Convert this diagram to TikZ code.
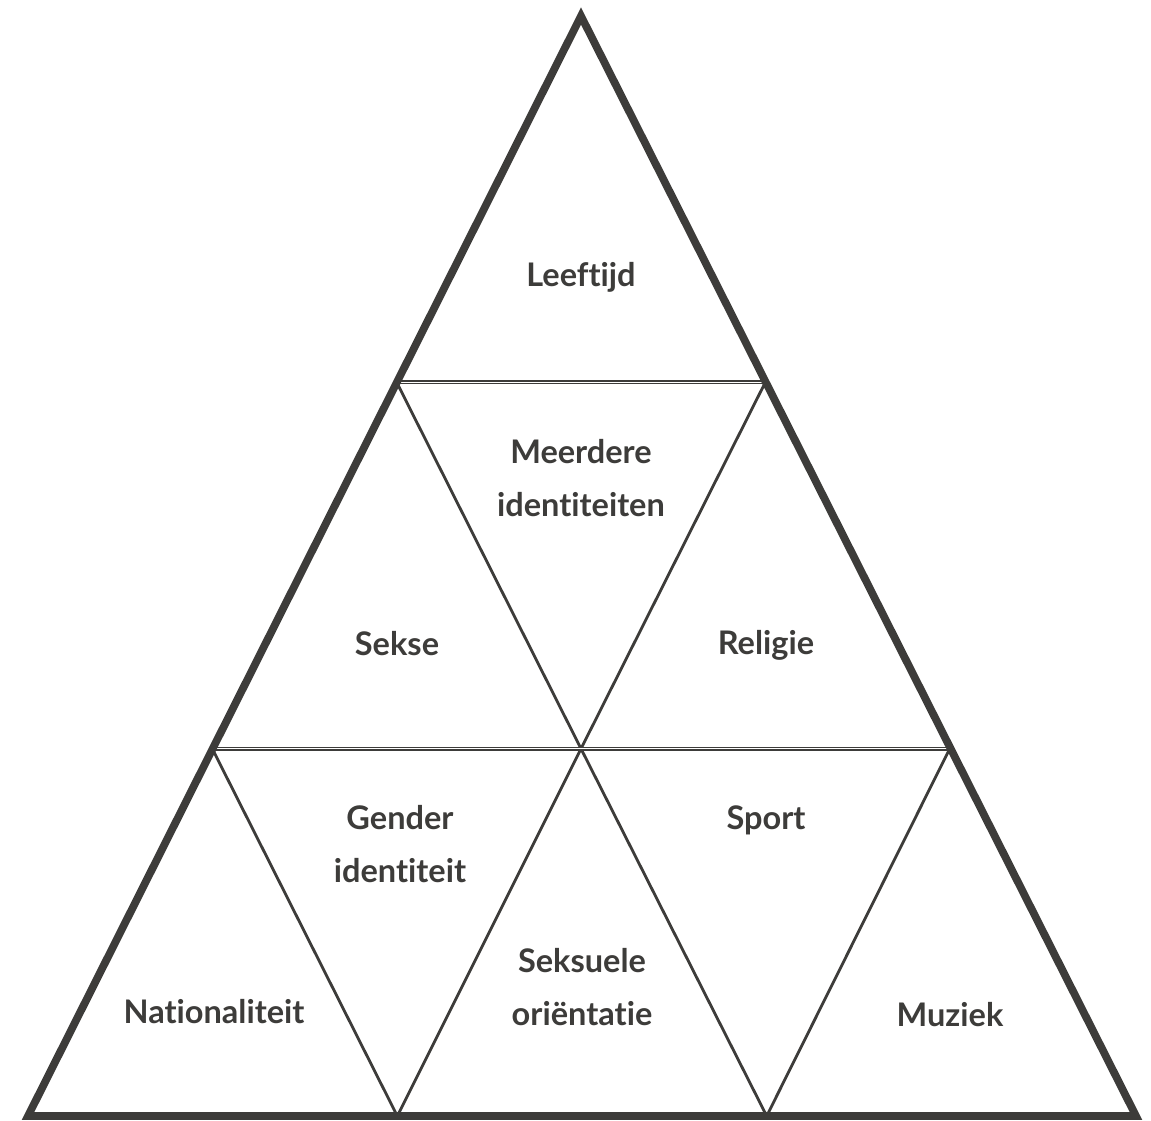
\documentclass[tikz,border=0pt]{standalone}
\usepackage{fontspec}
\setmainfont{Lato}[Ligatures={NoCommon,NoRare}]
\definecolor{pyrgrey}{RGB}{61,60,58}
\begin{document}
\begin{tikzpicture}[x=0.02cm, y=-0.02cm,
    myouter/.style={draw=pyrgrey, line width=4.4pt, line join=miter},
    mydiag/.style={draw=pyrgrey, line width=1.6pt},
    mysplit/.style={draw=pyrgrey, double=white, line width=0.9pt, double distance=0.6pt},
    mylabel/.style={text=pyrgrey, font=\fontsize{18.5}{30}\selectfont\bfseries, align=center}]
    \useasboundingbox (0,0) rectangle (1151,1120);
    % corners of the pyramid and its rows
    \coordinate (top) at (581,16);
    \coordinate (bl) at (28,1116);
    \coordinate (br) at (1136,1116);
    \coordinate (l1) at (396.7,382.3);
    \coordinate (r1) at (765.3,382.3);
    \coordinate (l2) at (212.3,748.7);
    \coordinate (m2) at (581,748.7);
    \coordinate (r2) at (949.7,748.7);
    \coordinate (b1) at (397.3,1116);
    \coordinate (b2) at (766.7,1116);
    % inner edges
    \draw[mydiag] (l1) -- (m2) -- (r1);
    \draw[mydiag] (l2) -- (b1) -- (m2) -- (b2) -- (r2);
    \draw[mysplit] (l1) -- (r1);
    \draw[mysplit] (l2) -- (r2);
    \draw[myouter] (top) -- (bl) -- (br) -- cycle;
    % labels
    \node[mylabel] (leeftijd) at (581,277) {Leeftijd};
    \node[mylabel] (meerdere) at (581,478) {Meerdere\\identiteiten};
    \node[mylabel] (sekse) at (397,644) {Sekse};
    \node[mylabel] (religie) at (766,645) {Religie};
    \node[mylabel] (gender) at (400,844) {Gender\\identiteit};
    \node[mylabel] (sport) at (766,820) {Sport};
    \node[mylabel] (seksueel) at (582,987) {Seksuele\\oriëntatie};
    \node[mylabel] (nation) at (214,1012) {Nationaliteit};
    \node[mylabel] (muziek) at (950,1015) {Muziek};
\end{tikzpicture}
\end{document}
